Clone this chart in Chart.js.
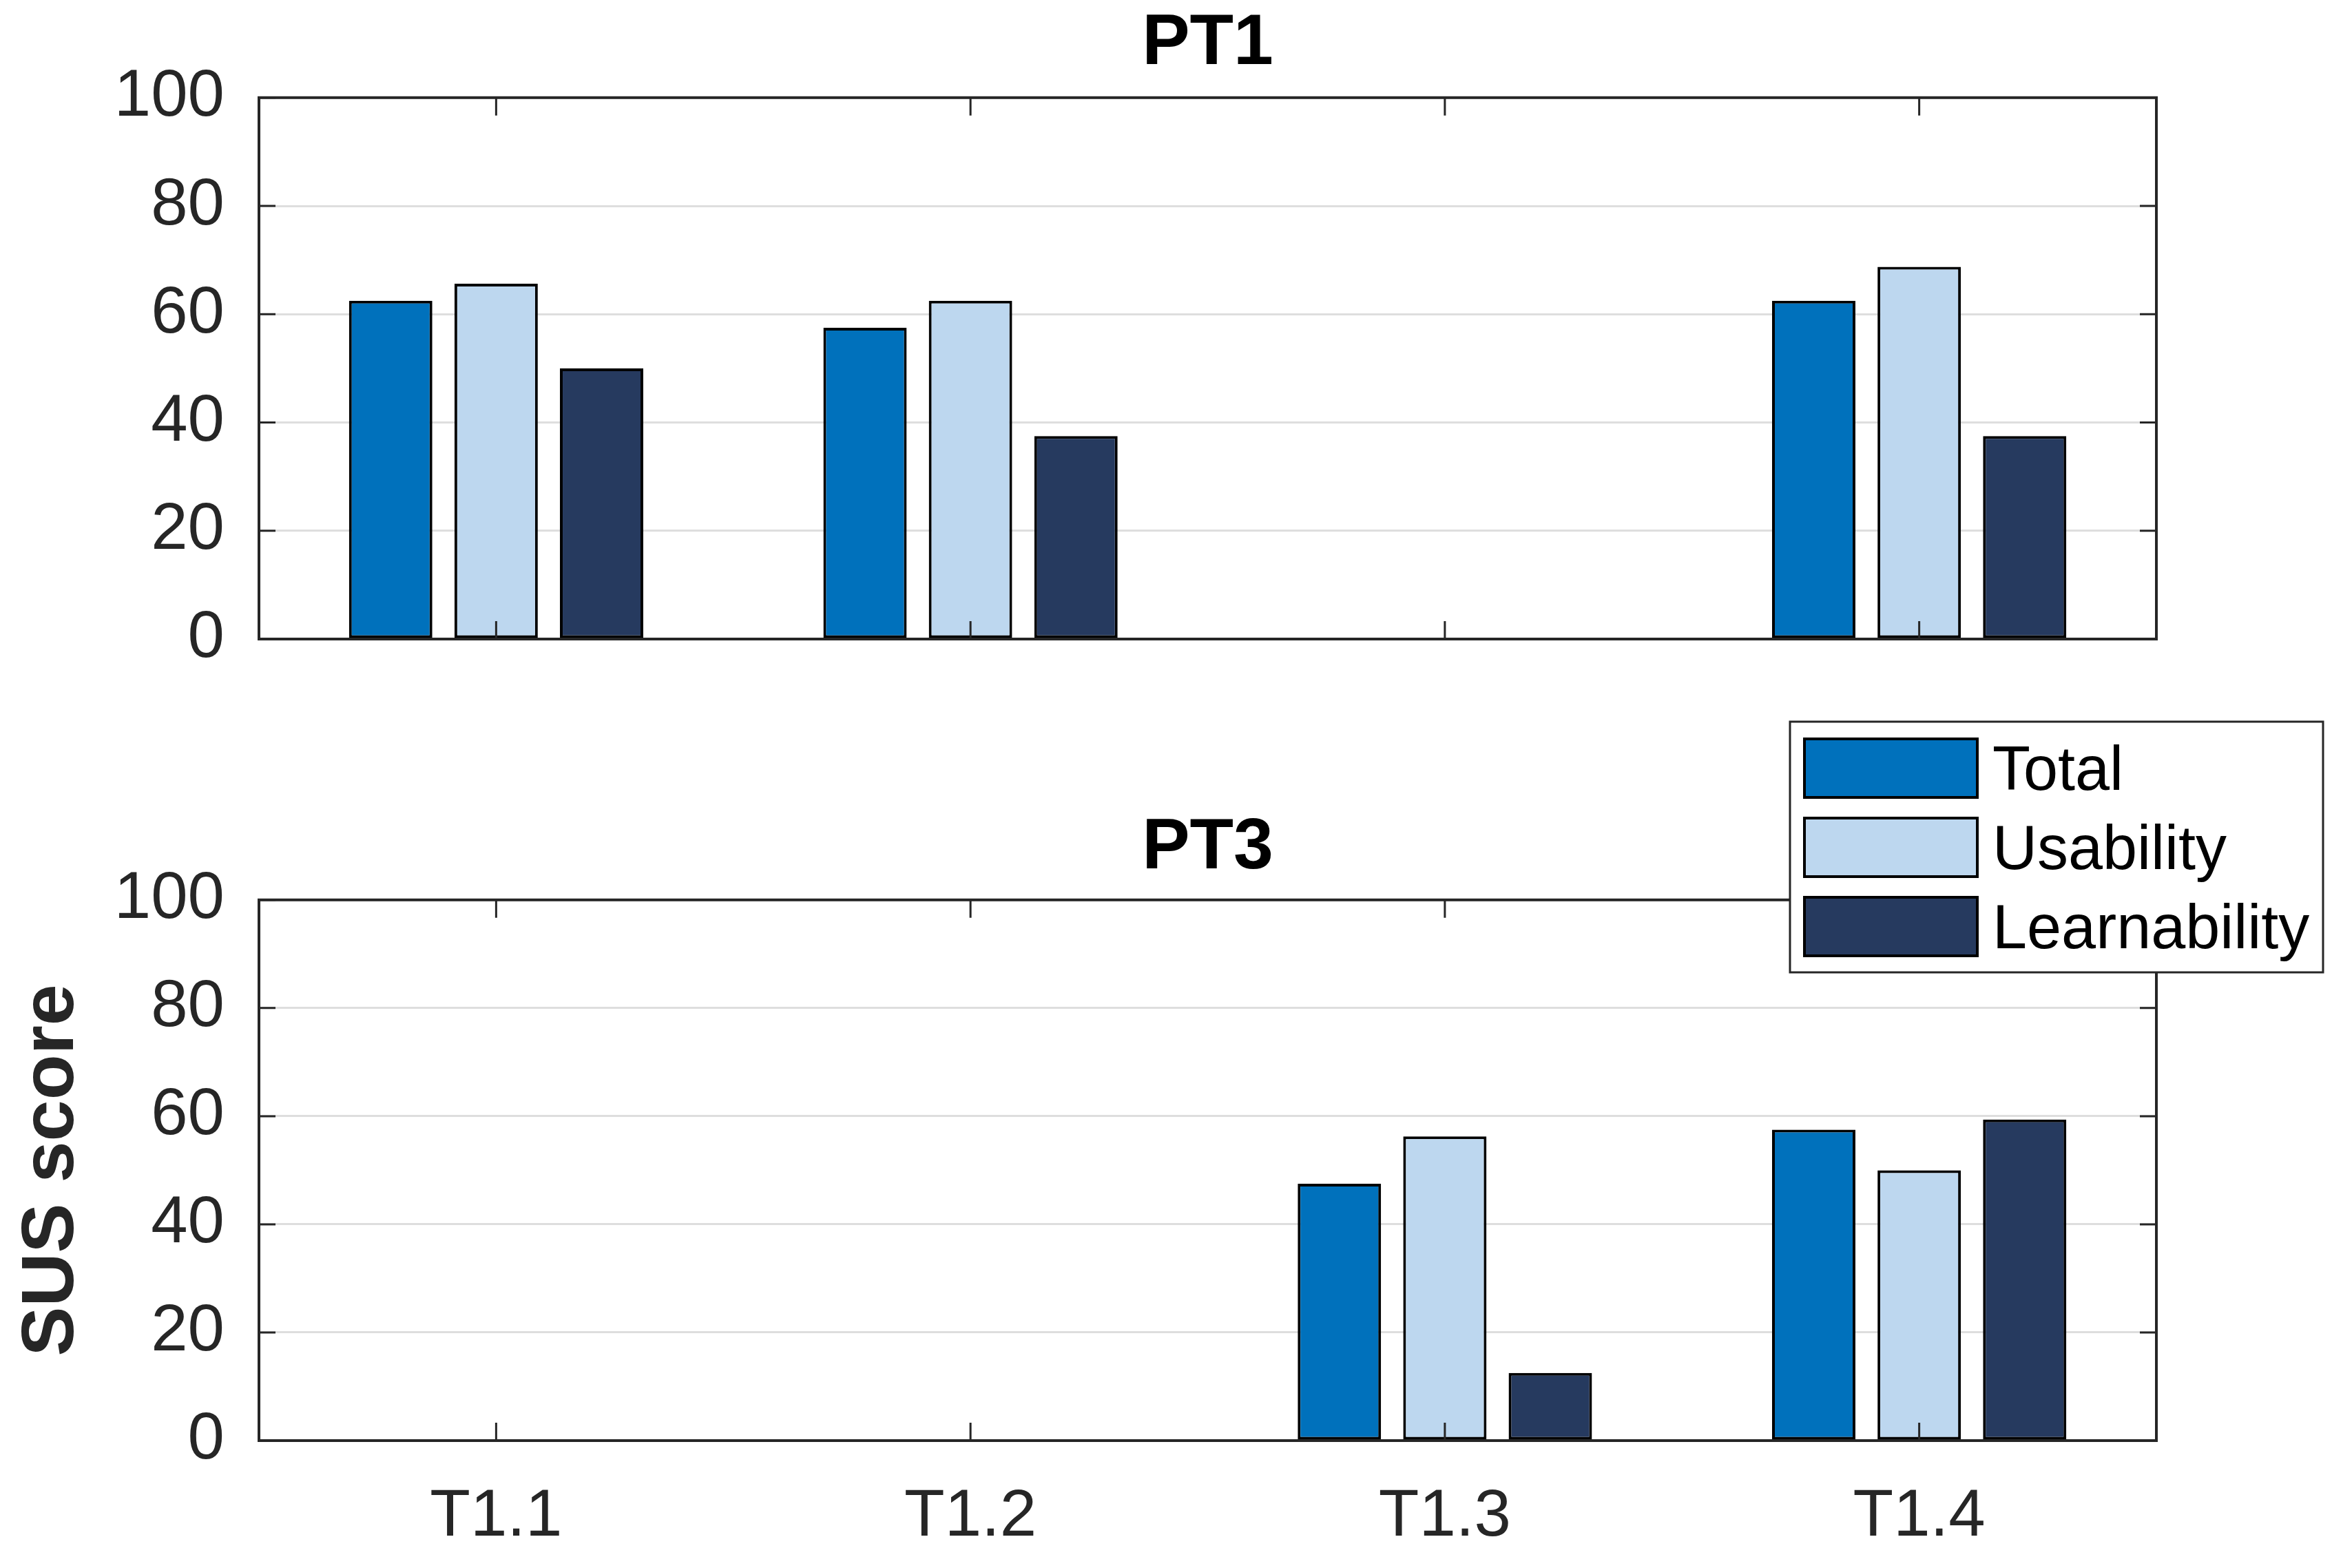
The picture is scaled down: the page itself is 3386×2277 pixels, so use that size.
<!DOCTYPE html>
<html>
<head>
<meta charset="utf-8">
<script src="https://cdn.jsdelivr.net/npm/chart.js@4.4.1/dist/chart.umd.min.js"></script>
<style>
html,body{margin:0;padding:0;background:#fff;width:3386px;height:2277px;overflow:hidden;}
canvas{position:absolute;left:0;display:block;}
</style>
</head>
<body>
<canvas id="c1" width="3386" height="1040" style="top:0px;width:3386px;height:1040px"></canvas>
<canvas id="c2" width="3386" height="1237" style="top:1040px;width:3386px;height:1237px"></canvas>
<script>
// ---- data ----
const categories = ['T1.1', 'T1.2', 'T1.3', 'T1.4'];
const seriesNames = ['Total', 'Usability', 'Learnability'];
const panelTitles = ['PT1', 'PT3'];
const yTicks = [0, 20, 40, 60, 80, 100];

const pt1Total        = [62.5, 57.5, 0, 62.5];
const pt1Usability    = [65.625, 62.5, 0, 68.75];
const pt1Learnability = [50, 37.5, 0, 37.5];

const pt3Total        = [0, 0, 47.5, 57.5];
const pt3Usability    = [0, 0, 56.25, 50];
const pt3Learnability = [0, 0, 12.5, 59.375];

const seriesColors = ['#0071BC', '#BDD7EF', '#263A5F'];

// ---- styling ----
const FONT = '"Liberation Sans", Arial, Helvetica, sans-serif';
Chart.defaults.font.family = FONT;
Chart.defaults.color = '#262626';

const matlabAxes = {
  id: 'matlabAxes',
  afterDatasetsDraw(chart) {
    const {ctx, chartArea: a, scales: {x, y}} = chart;
    ctx.save();
    ctx.strokeStyle = '#262626';
    ctx.lineWidth = 3;
    ctx.beginPath();
    yTicks.forEach(v => {
      const py = y.getPixelForValue(v);
      ctx.moveTo(a.left, py); ctx.lineTo(a.left + 24, py);
      ctx.moveTo(a.right, py); ctx.lineTo(a.right - 24, py);
    });
    categories.forEach((c, i) => {
      const px = x.getPixelForValue(i);
      ctx.moveTo(px, a.top); ctx.lineTo(px, a.top + 26);
      ctx.moveTo(px, a.bottom); ctx.lineTo(px, a.bottom - 26);
    });
    ctx.stroke();
    ctx.lineWidth = 4;
    ctx.strokeRect(a.left, a.top, a.right - a.left, a.bottom - a.top);
    ctx.restore();
  }
};

const floatingLegend = {
  id: 'floatingLegend',
  afterDraw(chart) {
    const ctx = chart.ctx;
    ctx.save();
    const bx = 2599, by = 8, bw = 774, bh = 364;
    ctx.fillStyle = '#ffffff';
    ctx.fillRect(bx, by, bw, bh);
    ctx.lineWidth = 3;
    ctx.strokeStyle = '#262626';
    ctx.strokeRect(bx, by, bw, bh);
    chart.data.datasets.forEach((ds, i) => {
      const cy = 75 + i * 115;
      ctx.fillStyle = ds.backgroundColor;
      ctx.fillRect(2620, cy - 42, 251, 85);
      ctx.lineWidth = 4;
      ctx.strokeStyle = '#000000';
      ctx.strokeRect(2620, cy - 42, 251, 85);
      ctx.fillStyle = '#000000';
      ctx.font = '90px ' + FONT;
      ctx.textAlign = 'left';
      ctx.textBaseline = 'middle';
      ctx.fillText(ds.label, 2893, cy + 7);
    });
    ctx.restore();
  }
};

function makeDatasets(vals) {
  return vals.map((v, i) => ({
    label: seriesNames[i],
    data: v,
    backgroundColor: seriesColors[i],
    borderColor: '#000000',
    borderWidth: 4,
    borderSkipped: false,
    categoryPercentage: 0.667,
    barPercentage: 0.79
  }));
}

function makeChart(id, title, vals, opts) {
  return new Chart(document.getElementById(id), {
    type: 'bar',
    data: { labels: categories, datasets: makeDatasets(vals) },
    options: {
      responsive: false,
      devicePixelRatio: 1,
      animation: false,
      layout: { padding: { top: opts.padTop, bottom: 0, left: 0, right: 255 } },
      plugins: {
        legend: { display: false },
        tooltip: { enabled: false },
        title: {
          display: true,
          fullSize: false,
          text: title,
          color: '#000000',
          font: { size: 104, weight: 'bold' },
          padding: { top: 2, bottom: opts.titleBottom }
        }
      },
      scales: {
        x: {
          offset: true,
          grid: { display: false, drawTicks: false },
          border: { display: false },
          ticks: {
            display: opts.showX,
            color: '#262626',
            font: { size: 96 },
            padding: 54,
            maxRotation: 0
          },
          afterFit: s => { s.height = opts.xHeight; }
        },
        y: {
          min: 0,
          max: 100,
          afterBuildTicks: s => { s.ticks = yTicks.map(v => ({ value: v })); },
          grid: { color: '#dedede', lineWidth: 3, drawTicks: false },
          border: { display: false },
          ticks: { color: '#262626', font: { size: 96 }, padding: 50 },
          title: {
            display: opts.showYTitle,
            text: 'SUS score',
            color: '#262626',
            font: { size: 108, weight: 'bold' },
            padding: { top: 11, bottom: 0 }
          },
          afterFit: s => { s.width = 376; }
        }
      }
    },
    plugins: opts.legend ? [matlabAxes, floatingLegend] : [matlabAxes]
  });
}

makeChart('c1', panelTitles[0], [pt1Total, pt1Usability, pt1Learnability],
  { padTop: 0, titleBottom: 15, xHeight: 112, showX: false, showYTitle: false, legend: false });
makeChart('c2', panelTitles[1], [pt3Total, pt3Usability, pt3Learnability],
  { padTop: 128, titleBottom: 12, xHeight: 185, showX: true, showYTitle: true, legend: true });
</script>
</body>
</html>
